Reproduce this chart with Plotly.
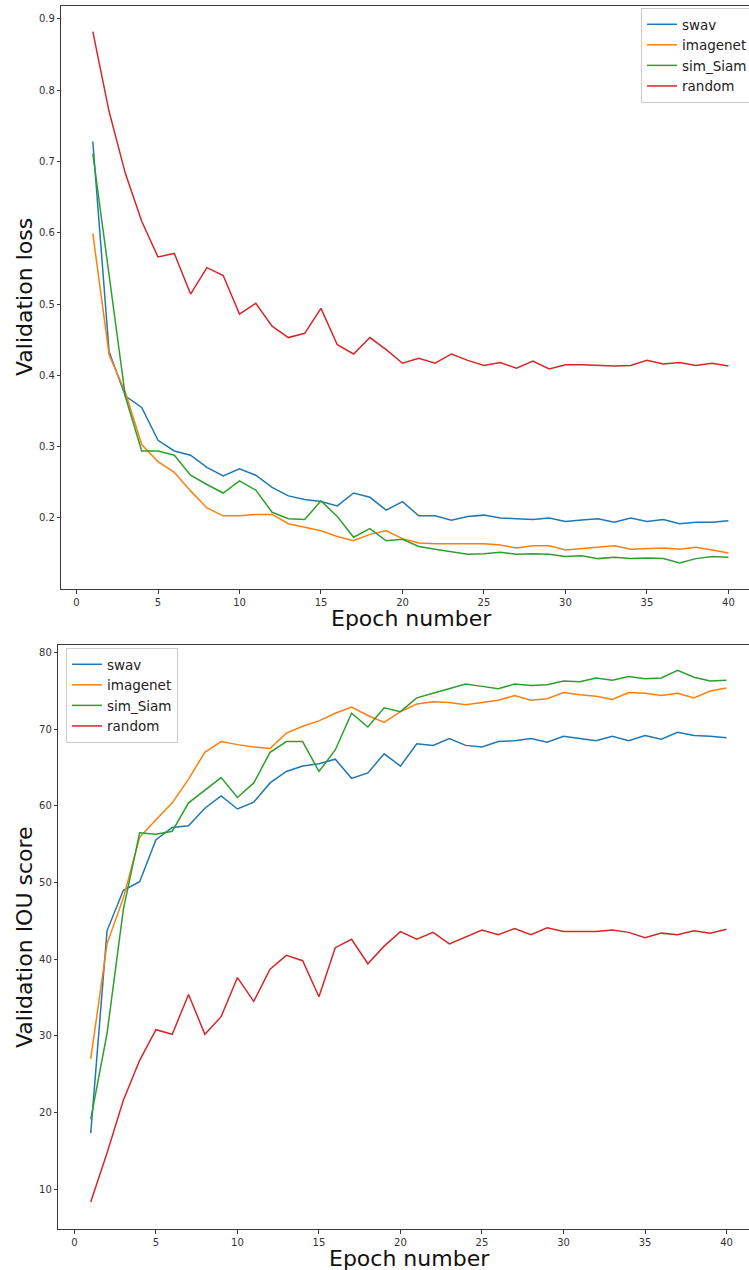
import plotly.graph_objects as go

# Training curves recorded per epoch for four encoder initialisations
epochs = list(range(1, 41))
series_names = ["swav", "imagenet", "sim_Siam", "random"]
series_colors = ["#1f77b4", "#ff7f0e", "#2ca02c", "#d62728"]

loss_swav = [0.728, 0.433, 0.371, 0.355, 0.309, 0.294, 0.288, 0.271, 0.259, 0.269,
             0.260, 0.243, 0.231, 0.226, 0.223, 0.217, 0.235, 0.229, 0.211, 0.223,
             0.203, 0.203, 0.197, 0.202, 0.204, 0.200, 0.199, 0.198, 0.200, 0.195,
             0.197, 0.199, 0.194, 0.200, 0.195, 0.198, 0.192, 0.194, 0.194, 0.196]
loss_imagenet = [0.599, 0.429, 0.376, 0.303, 0.279, 0.264, 0.238, 0.214, 0.203, 0.203,
                 0.205, 0.205, 0.192, 0.187, 0.182, 0.174, 0.168, 0.177, 0.182, 0.171,
                 0.165, 0.164, 0.164, 0.165, 0.164, 0.162, 0.158, 0.161, 0.161, 0.155,
                 0.157, 0.158, 0.161, 0.156, 0.157, 0.158, 0.156, 0.159, 0.155, 0.151]
loss_simsiam = [0.711, 0.540, 0.370, 0.294, 0.294, 0.288, 0.260, 0.247, 0.235, 0.252,
                0.239, 0.208, 0.199, 0.198, 0.224, 0.202, 0.173, 0.185, 0.168, 0.170,
                0.160, 0.156, 0.152, 0.149, 0.150, 0.152, 0.149, 0.150, 0.149, 0.146,
                0.147, 0.143, 0.145, 0.143, 0.144, 0.143, 0.137, 0.143, 0.146, 0.145]
loss_random = [0.882, 0.770, 0.683, 0.616, 0.566, 0.571, 0.514, 0.551, 0.540, 0.486,
               0.501, 0.469, 0.453, 0.459, 0.494, 0.443, 0.430, 0.453, 0.436, 0.417,
               0.424, 0.417, 0.430, 0.421, 0.414, 0.418, 0.410, 0.420, 0.409, 0.415,
               0.415, 0.414, 0.413, 0.414, 0.421, 0.416, 0.418, 0.414, 0.417, 0.413]

iou_swav = [17.3, 43.7, 49.0, 50.1, 55.6, 57.2, 57.4, 59.7, 61.3, 59.6,
            60.5, 63.0, 64.5, 65.2, 65.5, 66.1, 63.6, 64.3, 66.8, 65.2,
            68.1, 67.9, 68.8, 67.9, 67.7, 68.4, 68.5, 68.8, 68.3, 69.1,
            68.8, 68.5, 69.1, 68.5, 69.2, 68.7, 69.6, 69.2, 69.1, 68.9]
iou_imagenet = [27.0, 42.0, 48.0, 55.9, 58.2, 60.4, 63.5, 67.0, 68.4, 68.0,
                67.7, 67.5, 69.5, 70.4, 71.1, 72.1, 72.9, 71.8, 70.9, 72.3,
                73.3, 73.6, 73.5, 73.2, 73.5, 73.8, 74.4, 73.8, 74.0, 74.8,
                74.5, 74.3, 73.9, 74.8, 74.7, 74.4, 74.7, 74.1, 75.0, 75.4]
iou_simsiam = [19.1, 30.3, 46.5, 56.5, 56.3, 56.7, 60.4, 62.1, 63.7, 61.1,
               63.0, 67.0, 68.4, 68.4, 64.5, 67.3, 72.1, 70.3, 72.8, 72.3,
               74.1, 74.7, 75.3, 75.9, 75.6, 75.3, 75.9, 75.7, 75.8, 76.3,
               76.2, 76.7, 76.4, 76.9, 76.6, 76.7, 77.7, 76.8, 76.3, 76.4]
iou_random = [8.3, 14.7, 21.6, 26.8, 30.8, 30.2, 35.4, 30.2, 32.5, 37.6,
              34.5, 38.7, 40.5, 39.8, 35.1, 41.5, 42.6, 39.4, 41.7, 43.6,
              42.6, 43.5, 42.0, 42.9, 43.8, 43.2, 44.0, 43.2, 44.1, 43.6,
              43.6, 43.6, 43.8, 43.5, 42.8, 43.4, 43.2, 43.7, 43.4, 43.9]

loss_series = [loss_swav, loss_imagenet, loss_simsiam, loss_random]
iou_series = [iou_swav, iou_imagenet, iou_simsiam, iou_random]

W, H = 749, 1270
FONT = "DejaVu Sans"
SPINE = "#3a3a3a"

fig = go.Figure()

for name, color, values in zip(series_names, series_colors, loss_series):
    fig.add_trace(go.Scatter(x=epochs, y=values, mode="lines", name=name,
                             line=dict(color=color, width=1.5),
                             xaxis="x", yaxis="y", legend="legend"))
for name, color, values in zip(series_names, series_colors, iou_series):
    fig.add_trace(go.Scatter(x=epochs, y=values, mode="lines", name=name,
                             line=dict(color=color, width=1.5),
                             xaxis="x2", yaxis="y2", legend="legend2"))


def px_x(p):
    return p / W


def px_y(p):
    return 1 - p / H


axis_common = dict(showline=True, linecolor=SPINE, linewidth=1,
                   ticks="outside", ticklen=3.5, tickcolor=SPINE, tickwidth=1,
                   showgrid=False, zeroline=False,
                   tickfont=dict(family=FONT, size=10, color="#333333"))

legend_common = dict(xanchor="left", yanchor="top",
                     bgcolor="white", bordercolor="#cccccc", borderwidth=1,
                     font=dict(family=FONT, size=13.5, color="#222222"),
                     tracegroupgap=0)

fig.update_layout(
    width=W, height=H,
    margin=dict(l=0, r=0, t=0, b=0, autoexpand=False),
    paper_bgcolor="white", plot_bgcolor="white",
    font=dict(family=FONT),
    xaxis=dict(domain=[px_x(61.3), 1], range=[-0.933, 41.26], anchor="y",
               tickvals=[0, 5, 10, 15, 20, 25, 30, 35, 40], mirror=True, **axis_common),
    yaxis=dict(domain=[px_y(589), px_y(6)], range=[0.1004, 0.918], anchor="x",
               tickvals=[0.2, 0.3, 0.4, 0.5, 0.6, 0.7, 0.8, 0.9], tickformat=".1f",
               **axis_common),
    xaxis2=dict(domain=[px_x(58.3), 1], range=[-0.99, 41.38], anchor="y2",
                tickvals=[0, 5, 10, 15, 20, 25, 30, 35, 40], mirror=True, **axis_common),
    yaxis2=dict(domain=[px_y(1229.3), px_y(645)], range=[4.75, 81.0], anchor="x2",
                tickvals=[10, 20, 30, 40, 50, 60, 70, 80], **axis_common),
    legend=dict(x=px_x(641), y=px_y(8), **legend_common),
    legend2=dict(x=px_x(66), y=px_y(648), **legend_common),
)

title_font = dict(family=FONT, size=22, color="#111111")
axis_titles = [
    ("Epoch number", 411, 618, 0),
    ("Validation loss", 25, 297, -90),
    ("Epoch number", 409, 1258, 0),
    ("Validation IOU score", 25, 937, -90),
]
for text, cx, cy, angle in axis_titles:
    fig.add_annotation(text=text, x=px_x(cx), y=px_y(cy), xref="paper", yref="paper",
                       xanchor="center", yanchor="middle", showarrow=False,
                       textangle=angle, font=title_font)

fig.write_html("out.html")
